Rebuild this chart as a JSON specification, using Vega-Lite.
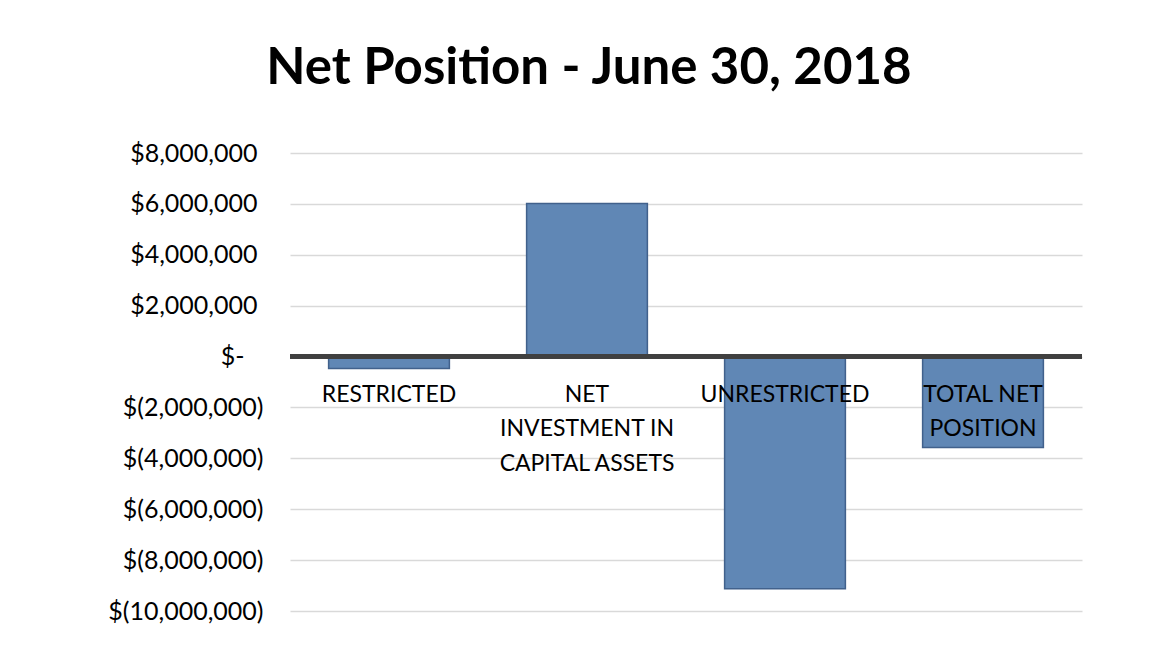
{
  "$schema": "https://vega.github.io/schema/vega-lite/v6.json",
  "autosize": {"type": "none"},
  "padding": {"left": 290, "top": 153, "right": 78, "bottom": 44},
  "width": 792,
  "height": 458,
  "background": "white",
  "config": {
    "font": "Lato",
    "view": {"stroke": null}
  },
  "title": {
    "text": "Net Position - June 30, 2018",
    "font": "Lato",
    "fontSize": 51,
    "fontWeight": "bold",
    "color": "#000000",
    "anchor": "middle",
    "frame": "group",
    "baseline": "alphabetic",
    "offset": 6,
    "dx": -97
  },
  "data": {
    "values": [
      {"category": "RESTRICTED", "label": "RESTRICTED", "amount": -470000},
      {"category": "NET INVESTMENT IN CAPITAL ASSETS", "label": "NET\nINVESTMENT IN\nCAPITAL ASSETS", "amount": 6020000},
      {"category": "UNRESTRICTED", "label": "UNRESTRICTED", "amount": -9130000},
      {"category": "TOTAL NET POSITION", "label": "TOTAL NET\nPOSITION", "amount": -3570000}
    ]
  },
  "encoding": {
    "x": {
      "field": "category",
      "type": "nominal",
      "sort": null,
      "scale": {"paddingInner": 0.39, "paddingOuter": 0.195},
      "axis": null
    }
  },
  "layer": [
    {
      "mark": {"type": "bar", "fill": "#6087b5", "stroke": "#41618c", "strokeWidth": 1.5},
      "encoding": {
        "y": {
          "field": "amount",
          "type": "quantitative",
          "scale": {"domain": [-10000000, 8000000], "nice": false, "zero": false},
          "axis": {
            "title": null,
            "values": [-10000000, -8000000, -6000000, -4000000, -2000000, 0, 2000000, 4000000, 6000000, 8000000],
            "domain": false,
            "ticks": false,
            "grid": true,
            "gridColor": "#d9d9d9",
            "gridWidth": 1.5,
            "labelFont": "Lato",
            "labelFontSize": 25,
            "labelColor": "#000000",
            "labelPadding": {"expr": "datum.value > 0 ? 33 : (datum.value == 0 ? 46 : 27)"},
            "labelExpr": "datum.value == 0 ? '$-' : (datum.value < 0 ? '$(' + format(-datum.value, ',') + ')' : '$' + format(datum.value, ','))"
          }
        }
      }
    },
    {
      "mark": {"type": "rule", "color": "#404040", "strokeWidth": 4.5},
      "encoding": {"y": {"datum": 0, "type": "quantitative"}, "x": null}
    },
    {
      "mark": {
        "type": "text",
        "font": "Lato",
        "fontSize": 23,
        "color": "#000000",
        "baseline": "alphabetic",
        "align": "center",
        "lineBreak": "\n",
        "lineHeight": 34.5,
        "dy": 45
      },
      "encoding": {
        "y": {"datum": 0, "type": "quantitative"},
        "text": {"field": "label", "type": "nominal"}
      }
    }
  ]
}
